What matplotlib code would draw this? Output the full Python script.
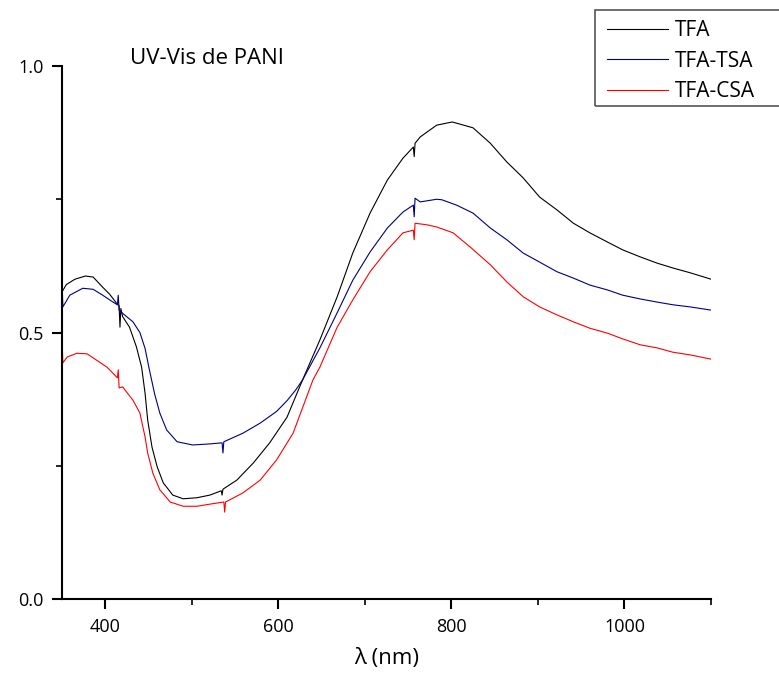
import matplotlib
matplotlib.use("Agg")
from matplotlib import pyplot as plt
from matplotlib.patches import Rectangle
from matplotlib.ticker import MultipleLocator

plt.rcParams["font.family"] = ["Open Sans", "DejaVu Sans"]

# wavelength (nm) / absorbance
wl_tfa = [350, 355, 365, 377, 386, 397, 405, 413, 416, 417, 418, 420, 428, 436,
          442, 446, 449, 454, 460, 467, 478, 490, 506, 521, 534, 535, 536, 552,
          571, 590, 610, 628, 648, 668, 686, 706, 726, 744, 756, 757, 758, 764,
          783, 801, 825, 845, 864, 883, 902, 922, 941, 960, 980, 998, 1018,
          1038, 1056, 1076, 1100]
abs_tfa = [0.576, 0.590, 0.600, 0.606, 0.604, 0.585, 0.572, 0.555, 0.550, 0.510,
           0.545, 0.530, 0.510, 0.473, 0.435, 0.386, 0.336, 0.285, 0.248, 0.218,
           0.195, 0.188, 0.190, 0.195, 0.203, 0.195, 0.206, 0.223, 0.255, 0.293,
           0.341, 0.411, 0.486, 0.567, 0.649, 0.724, 0.786, 0.827, 0.848, 0.830,
           0.855, 0.867, 0.889, 0.895, 0.884, 0.855, 0.820, 0.790, 0.754, 0.730,
           0.705, 0.687, 0.670, 0.655, 0.642, 0.630, 0.621, 0.612, 0.600]

wl_tsa = [350, 351, 359, 374, 386, 397, 409, 414, 415, 416, 420, 432, 440, 446,
          451, 457, 463, 471, 483, 501, 521, 535, 536, 537, 559, 579, 598, 610,
          620, 628, 648, 668, 686, 706, 726, 744, 756, 757, 758, 764, 783, 789,
          806, 825, 845, 864, 883, 902, 922, 941, 960, 980, 998, 1018, 1038,
          1056, 1076, 1100]
abs_tsa = [0.600, 0.548, 0.570, 0.583, 0.581, 0.570, 0.557, 0.552, 0.570, 0.542,
           0.536, 0.520, 0.500, 0.470, 0.430, 0.385, 0.349, 0.317, 0.295, 0.289,
           0.291, 0.293, 0.274, 0.295, 0.311, 0.330, 0.352, 0.372, 0.392, 0.411,
           0.471, 0.537, 0.598, 0.651, 0.696, 0.726, 0.739, 0.717, 0.752, 0.745,
           0.750, 0.749, 0.739, 0.724, 0.696, 0.674, 0.649, 0.632, 0.614, 0.602,
           0.589, 0.580, 0.570, 0.563, 0.557, 0.552, 0.548, 0.542]

wl_csa = [350, 351, 356, 367, 379, 390, 402, 411, 414, 415, 416, 420, 432, 440,
          446, 449, 455, 463, 475, 490, 506, 521, 537, 538, 539, 559, 579, 598,
          617, 640, 648, 668, 686, 706, 726, 744, 756, 757, 758, 772, 783, 802,
          822, 845, 864, 883, 902, 922, 941, 960, 980, 998, 1018, 1038, 1056,
          1076, 1100]
abs_csa = [0.490, 0.443, 0.454, 0.461, 0.460, 0.448, 0.435, 0.420, 0.415, 0.430,
           0.396, 0.398, 0.373, 0.349, 0.304, 0.274, 0.236, 0.205, 0.182, 0.174,
           0.174, 0.178, 0.182, 0.163, 0.182, 0.199, 0.223, 0.261, 0.311, 0.411,
           0.435, 0.510, 0.561, 0.614, 0.655, 0.687, 0.692, 0.674, 0.705, 0.702,
           0.698, 0.687, 0.660, 0.627, 0.595, 0.567, 0.548, 0.533, 0.520, 0.508,
           0.499, 0.488, 0.477, 0.471, 0.463, 0.458, 0.450]

labels = ["TFA", "TFA-TSA", "TFA-CSA"]
colors = ["black", "#000080", "#ff0000"]

fig = plt.figure(figsize=(7.79, 6.79), dpi=100)
ax = fig.add_axes([62 / 779, 1 - 599 / 679, 649 / 779, 533 / 679])

for wl, a, lab, c in zip([wl_tfa, wl_tsa, wl_csa], [abs_tfa, abs_tsa, abs_csa],
                         labels, colors):
    ax.plot(wl, a, color=c, lw=0.8, label=lab)

ax.set_xlim(350, 1100)
ax.set_ylim(0, 1.0)
ax.xaxis.set_major_locator(MultipleLocator(200))
ax.xaxis.set_minor_locator(MultipleLocator(100))
ax.yaxis.set_major_locator(MultipleLocator(0.5))
ax.yaxis.set_minor_locator(MultipleLocator(0.25))
ax.yaxis.set_major_formatter(plt.FormatStrFormatter("%.1f"))

for s in ["top", "right"]:
    ax.spines[s].set_visible(False)
for s in ["left", "bottom"]:
    ax.spines[s].set_linewidth(1.5)

ax.tick_params(which="major", direction="out", length=7, width=1.5, labelsize=13)
ax.tick_params(which="minor", direction="out", length=4, width=1.2)
ax.tick_params(axis="x", which="major", pad=7)
ax.tick_params(axis="y", which="major", pad=6)

ax.set_xlabel("λ (nm)", fontsize=16, labelpad=8)
ax.text(130 / 779, 1 - 64 / 679, "UV-Vis de PANI", transform=fig.transFigure,
        fontsize=16, ha="left", va="baseline")

leg = fig.legend(loc="upper left", bbox_to_anchor=(599 / 779, 1 - 12 / 679),
                 frameon=False, prop={"size": 15}, handlelength=2.9,
                 handletextpad=0.35, labelspacing=0.45, borderaxespad=0)
fig.patches.append(Rectangle((595 / 779, 1 - 106 / 679), 190 / 779, 96 / 679,
                             transform=fig.transFigure, fill=False,
                             edgecolor="#555555", lw=1.2))

fig.savefig("out.png", dpi=100)
